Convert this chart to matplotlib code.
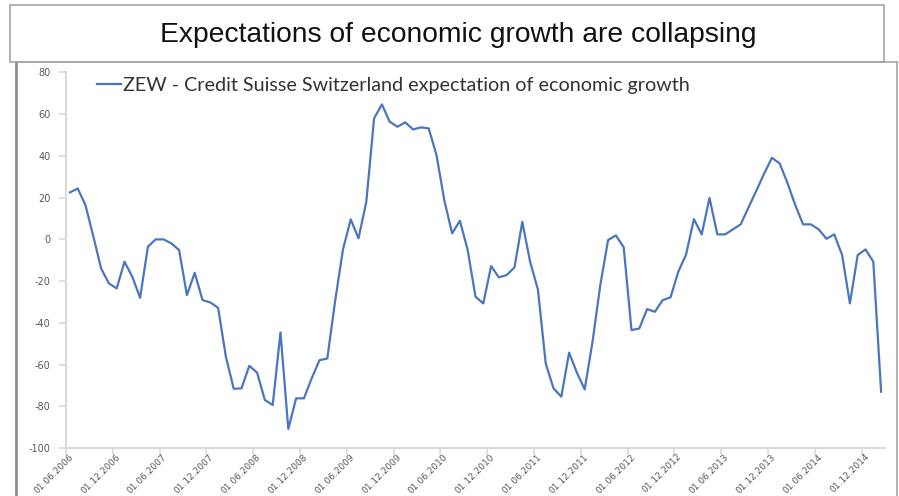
import matplotlib.pyplot as plt
import matplotlib.transforms as mtransforms
from matplotlib.patches import Rectangle
from matplotlib.lines import Line2D

# ZEW - Credit Suisse Switzerland, monthly values, 06.2006 - 02.2015
zew_values = [
    22.5, 24.4, 16.4, 1.5, -13.9, -21.1, -23.5, -10.7, -17.9, -28.0,
    -3.5, 0.0, 0.0, -1.9, -5.1, -26.7, -16.0, -29.1, -30.2, -32.8,
    -56.3, -71.6, -71.4, -60.6, -63.9, -77.0, -79.4, -44.6, -90.9, -76.2,
    -76.2, -66.6, -57.9, -57.1, -29.6, -5.0, 9.6, 0.5, 18.0, 58.0,
    64.7, 56.4, 54.0, 56.1, 52.7, 53.7, 53.2, 40.4, 18.8, 2.9,
    8.9, -5.1, -27.5, -30.7, -12.8, -18.2, -17.1, -13.4, 8.4, -10.7,
    -24.0, -59.4, -71.4, -75.4, -54.3, -63.9, -71.9, -49.1, -21.9, -0.3,
    1.9, -3.8, -43.5, -42.7, -33.4, -34.7, -29.1, -27.8, -15.5, -7.2,
    9.7, 2.4, 19.9, 2.4, 2.4, 4.8, 7.2, 15.3, 23.3, 31.5,
    39.1, 36.4, 27.0, 16.4, 7.2, 7.2, 4.8, 0.3, 2.4, -7.5,
    -30.7, -7.5, -4.8, -10.7, -73.0,
]
months = list(range(len(zew_values)))

date_labels = [
    "01.06.2006", "01.12.2006", "01.06.2007", "01.12.2007", "01.06.2008",
    "01.12.2008", "01.06.2009", "01.12.2009", "01.06.2010", "01.12.2010",
    "01.06.2011", "01.12.2011", "01.06.2012", "01.12.2012", "01.06.2013",
    "01.12.2013", "01.06.2014", "01.12.2014",
]
y_ticks = [-100, -80, -60, -40, -20, 0, 20, 40, 60, 80]

title_text = "Expectations of economic growth are collapsing"
series_name = "ZEW - Credit Suisse Switzerland expectation of economic growth"

W, H = 899, 496
fig = plt.figure(figsize=(W / 100, H / 100), dpi=100)


def px_rect(x0, y0, x1, y1, **kw):
    # rectangle in pixel coords (origin top-left)
    return Rectangle((x0 / W, 1 - y1 / H), (x1 - x0) / W, (y1 - y0) / H,
                     transform=fig.transFigure, fill=False, **kw)


# slide frames
fig.patches.append(px_rect(10, 5, 884, 62, ec="#a6a6a6", lw=1.2))
fig.lines.append(Line2D([16 / W, 16 / W], [1 - 62 / H, 0], transform=fig.transFigure,
                        color="#8c8c8c", lw=2))
fig.lines.append(Line2D([16 / W, 897 / W], [1 - 62 / H, 1 - 62 / H], transform=fig.transFigure,
                        color="#a6a6a6", lw=1.2))
fig.lines.append(Line2D([897 / W, 897 / W], [1 - 62 / H, 0], transform=fig.transFigure,
                        color="#a6a6a6", lw=1.2))

fig.text(458 / W, 1 - 35 / H, title_text, ha="center", va="center",
         fontsize=20.3, family="Liberation Sans", color="#111111")

ax = fig.add_axes([66 / W, 1 - 448 / H, (885 - 66) / W, (448 - 72.5) / H])
line, = ax.plot(months, zew_values, color="#4a76c0", lw=1.6, label=series_name)

ax.set_xlim(-0.5, len(zew_values) - 0.5)
ax.set_ylim(-100, 80)
ax.set_yticks(y_ticks)
ax.set_yticklabels([str(v) for v in y_ticks])
ax.set_xticks([-0.5 + 6 * i for i in range(len(date_labels))])
ax.set_xticklabels(date_labels, rotation=45, ha="right", va="center",
                   rotation_mode="anchor")

for s in ["top", "right"]:
    ax.spines[s].set_visible(False)
for s in ["left", "bottom"]:
    ax.spines[s].set_color("#d9d9d9")
    ax.spines[s].set_linewidth(1.5)
ax.tick_params(axis="both", colors="#d9d9d9", width=1.2, length=5, labelcolor="#595959",
               labelsize=7)
ax.tick_params(axis="x", labelsize=6.5, pad=1)
ax.tick_params(axis="y", pad=6)
for lab in ax.get_xticklabels():
    lab.set_transform(lab.get_transform() + mtransforms.ScaledTranslation(6 / 100, 1 / 100, fig.dpi_scale_trans))

ax.legend(handles=[line], loc="center left", bbox_to_anchor=(97 / W, 1 - 85 / H),
          bbox_transform=fig.transFigure, frameon=False,
          handlelength=1.2, handletextpad=0.1, borderpad=0, borderaxespad=0,
          prop={"family": "Lato", "size": 14.2}, labelcolor="#333333")

fig.savefig("out.png", dpi=100)
